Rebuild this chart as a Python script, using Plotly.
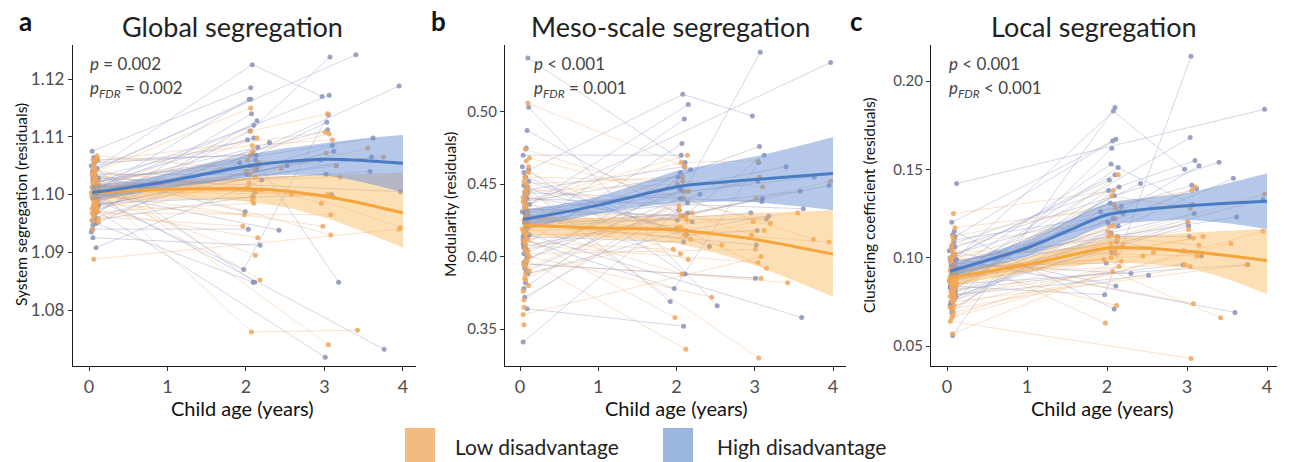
import plotly.graph_objects as go

W, H = 1291, 462
FONT = "Lato"

# ---------------- shared ages (same children in all panels) ----------------
LOW_AGE0 = [0.05, 0.08, 0.04, 0.10, 0.06, 0.07, 0.09, 0.05, 0.11, 0.06,
            0.08, 0.04, 0.07, 0.10, 0.05, 0.09, 0.06, 0.12, 0.07, 0.08,
            0.05, 0.10, 0.06, 0.09, 0.04, 0.07, 0.11, 0.08, 0.06, 0.05,
            0.09, 0.07, 0.10, 0.06, 0.08, 0.05, 0.12, 0.07, 0.09, 0.04,
            0.06, 0.08, 0.10, 0.05, 0.07]
LOW_AGE1 = [2.05, 2.12, None, 1.98, 2.08, None, 2.15, 2.02, None, 2.10,
            2.06, None, 2.18, 2.04, None, 2.11, 1.96, None, 2.09, 2.13,
            None, 2.07, 2.01, None, 2.14, None, 2.10, 2.03, None, 2.16,
            2.05, None, 2.12, None, 2.08, None, 2.45, None, 2.20, None,
            2.06, None, 2.11, None, 2.58]
LOW_AGE2 = [3.02, None, 3.05, None, 3.10, 2.98, None, 3.15, None, None,
            3.04, None, None, 2.96, 3.08, None, None, 3.20, 3.06, None,
            None, 3.42, None, 3.01, None, 3.12, None, None, 3.95, None,
            None, 3.04, 3.97, None, None, None, None, 3.75, None, 3.08,
            None, 3.55, None, None, None]

HIGH_AGE0 = [0.06, 0.04, 0.09, 0.07, 0.05, 0.11, 0.08, 0.06, 0.10, 0.04,
             0.07, 0.09, 0.05, 0.12, 0.06, 0.08, 0.03, 0.10, 0.07, 0.05,
             0.09, 0.06, 0.11, 0.08, 0.04, 0.07, 0.10, 0.05, 0.09, 0.06,
             0.08, 0.12, 0.04, 0.07, 0.10, 0.05, 0.09, 0.06, 0.08, 0.11,
             0.07, 0.05, 0.10, 0.06, 0.08]
HIGH_AGE1 = [2.04, 1.97, 2.10, None, 2.08, 2.14, None, 2.02, 2.12, 2.06,
             None, 2.09, 1.92, None, 2.15, 2.05, 2.11, None, 2.01, 2.18,
             None, 2.07, 2.13, None, 2.03, 2.10, None, 2.06, 2.20, None,
             2.30, None, 2.09, 2.42, None, 2.05, None, 2.14, None, 2.52,
             2.08, None, 2.11, None, 1.99]
HIGH_AGE2 = [None, 3.05, None, 3.01, 2.97, None, 3.10, None, 3.18, None,
             3.04, None, None, 3.60, None, 3.07, None, 2.95, 3.12, None,
             3.58, None, 3.03, 3.76, None, None, 3.09, None, None, 3.02,
             None, 3.97, None, None, 3.40, None, 3.62, None, 3.06, None,
             None, 3.95, None, 3.15, None]

# baseline-only children
LOW_EXTRA_AGE = [0.03, 0.06, 0.09, 0.05, 0.11, 0.07, 0.04, 0.08, 0.10, 0.06,
                 0.05, 0.09, 0.07, 0.12, 0.08]
HIGH_EXTRA_AGE = [0.07, 0.04, 0.10, 0.06, 0.08, 0.05, 0.11, 0.09, 0.03, 0.07,
                  0.06, 0.10, 0.08, 0.05, 0.09]

# ---------------- panel a: system segregation ----------------
A_LOW_Y0 = [1.1012, 1.0998, 1.1035, 1.0985, 1.1050, 1.1002, 1.0972, 1.1020, 1.1063, 1.0990,
            1.1008, 1.0955, 1.1028, 1.0978, 1.1045, 1.1005, 1.0962, 1.1018, 1.0993, 1.1032,
            1.0940, 1.1010, 1.0982, 1.1058, 1.0997, 1.1025, 1.0970, 1.1040, 1.0888, 1.1003,
            1.0987, 1.1015, 1.0975, 1.1048, 1.0995, 1.1022, 1.0958, 1.1030, 1.1000, 1.0968,
            1.1038, 1.0980, 1.1067, 1.0992, 1.1007]
A_LOW_Y1 = [1.1035, 1.0895, None, 1.0965, 1.1085, None, 1.0925, 1.1060, None, 1.0995,
            1.1110, None, 1.0852, 1.1020, None, 1.1048, 1.0945, None, 1.1075, 1.1005,
            None, 1.0762, 1.1040, None, 1.1098, None, 1.0985, 1.1012, None, 1.1055,
            1.1068, None, 1.1030, None, 1.0990, None, 1.1045, None, 1.1008, None,
            1.1150, None, 1.1042, None, 1.1000]
A_LOW_Y2 = [1.1072, None, 1.0740, None, 1.1095, 1.0945, None, 1.1050, None, None,
            1.1140, None, None, 1.0985, 1.0930, None, None, 1.1030, 1.1105, None,
            None, 1.0765, None, 1.1108, None, 1.0995, None, None, 1.0940, None,
            None, 1.1000, 1.0943, None, None, None, None, 1.1065, None, 1.0965,
            None, 1.1080, None, None, None]
A_HIGH_Y0 = [1.1005, 1.0995, 1.1020, 1.0975, 1.1042, 1.1010, 1.0960, 1.1030, 1.0988, 1.1075,
             1.1000, 1.0950, 1.1025, 1.0982, 1.1015, 1.0968, 1.1050, 1.0990, 1.1035, 1.0925,
             1.1008, 1.0978, 1.1060, 1.0998, 1.0940, 1.1018, 1.0985, 1.1040, 1.0908, 1.1012,
             1.0972, 1.1028, 1.0955, 1.1003, 1.1045, 1.0993, 1.1022, 1.0965, 1.1010, 1.0980,
             1.1055, 1.0947, 1.1015, 1.0997, 1.1033]
A_HIGH_Y1 = [1.1165, 1.0870, 1.1120, None, 1.1225, 1.1045, None, 1.1095, 1.1060, 1.1185,
             None, 1.0848, 1.1055, None, 1.1082, 1.1110, 1.0848, None, 1.1035, 1.0912,
             None, 1.1140, 1.1068, None, 1.0940, 1.1098, None, 1.1165, 1.1025, None,
             1.1090, None, 1.0997, 1.0938, None, 1.1050, None, 1.1128, None, 1.1050,
             1.1070, None, 1.1005, None, 1.0970]
A_HIGH_Y2 = [None, 1.1138, None, 1.0718, 1.1170, None, 1.1085, None, 1.0848, None,
             1.1112, None, None, 1.1065, None, 1.1238, None, 1.1060, 1.1075, None,
             1.1040, None, 1.1125, 1.0732, None, None, 1.1000, None, None, 1.1035,
             None, 1.1005, None, None, 1.1242, None, 1.1098, None, 1.1172, None,
             None, 1.1188, None, 1.1050, None]
A_LOW_EXTRA = [1.1003, 1.0983, 1.1026, 1.1060, 1.0990, 1.1014, 1.0976, 1.1045, 1.1001, 1.0967,
               1.1033, 1.0994, 1.1009, 1.0952, 1.1020]
A_HIGH_EXTRA = [1.0998, 1.1012, 1.0982, 1.1026, 1.0958, 1.1040, 1.0992, 1.1006, 1.0935, 1.1018,
                1.1064, 1.0970, 1.1002, 1.1030, 1.0986]

# ---------------- panel b: modularity ----------------
B_LOW_Y0 = [0.425, 0.398, 0.441, 0.412, 0.455, 0.388, 0.430, 0.418, 0.462, 0.405,
            0.436, 0.376, 0.422, 0.447, 0.395, 0.428, 0.410, 0.468, 0.384, 0.433,
            0.353, 0.420, 0.445, 0.402, 0.438, 0.415, 0.458, 0.392, 0.426, 0.370,
            0.443, 0.408, 0.431, 0.385, 0.450, 0.417, 0.400, 0.474, 0.423, 0.360,
            0.436, 0.412, 0.506, 0.394, 0.428]
B_LOW_Y1 = [0.428, 0.336, None, 0.358, 0.452, None, 0.398, 0.420, None, 0.445,
            0.465, None, 0.412, 0.432, None, 0.418, 0.405, None, 0.440, 0.425,
            None, 0.388, 0.450, None, 0.470, None, 0.415, 0.435, None, 0.445,
            0.402, None, 0.428, None, 0.455, None, 0.372, None, 0.430, None,
            0.420, None, 0.462, None, 0.408]
B_LOW_Y2 = [0.440, None, 0.330, None, 0.448, 0.424, None, 0.392, None, None,
            0.466, None, None, 0.415, 0.385, None, None, 0.423, 0.455, None,
            None, 0.382, None, 0.405, None, 0.418, None, None, 0.410, None,
            None, 0.396, 0.452, None, None, None, None, 0.412, None, 0.400,
            None, 0.430, None, None, None]
B_HIGH_Y0 = [0.430, 0.412, 0.446, 0.395, 0.458, 0.421, 0.405, 0.438, 0.388, 0.470,
             0.427, 0.364, 0.449, 0.415, 0.434, 0.398, 0.462, 0.420, 0.441, 0.378,
             0.425, 0.408, 0.452, 0.432, 0.341, 0.418, 0.444, 0.402, 0.487, 0.423,
             0.390, 0.436, 0.414, 0.455, 0.428, 0.396, 0.440, 0.372, 0.418, 0.503,
             0.433, 0.407, 0.537, 0.424, 0.447]
B_HIGH_Y1 = [0.447, 0.378, 0.462, None, 0.512, 0.430, None, 0.455, 0.418, 0.470,
             None, 0.352, 0.369, None, 0.505, 0.440, 0.388, None, 0.425, 0.460,
             None, 0.478, 0.415, None, 0.432, 0.495, None, 0.446, 0.424, None,
             0.443, None, 0.410, 0.407, None, 0.458, None, 0.437, None, 0.366,
             0.428, None, 0.465, None, 0.419]
B_HIGH_Y2 = [None, 0.465, None, 0.385, 0.497, None, 0.440, None, 0.428, None,
             0.452, None, None, 0.358, None, 0.541, None, 0.430, 0.470, None,
             0.445, None, 0.418, 0.455, None, None, 0.438, None, None, 0.408,
             None, 0.534, None, None, 0.462, None, 0.433, None, 0.476, None,
             None, 0.449, None, 0.426, None]
B_LOW_EXTRA = [0.419, 0.440, 0.397, 0.452, 0.380, 0.426, 0.411, 0.466, 0.404, 0.433,
               0.365, 0.447, 0.416, 0.390, 0.429]
B_HIGH_EXTRA = [0.423, 0.409, 0.448, 0.392, 0.436, 0.417, 0.460, 0.400, 0.431, 0.382,
                0.444, 0.414, 0.475, 0.406, 0.427]

# ---------------- panel c: clustering coefficient ----------------
C_LOW_Y0 = [0.088, 0.095, 0.064, 0.102, 0.084, 0.091, 0.073, 0.098, 0.086, 0.107,
            0.082, 0.093, 0.067, 0.089, 0.100, 0.076, 0.094, 0.085, 0.112, 0.081,
            0.090, 0.079, 0.097, 0.087, 0.078, 0.104, 0.092, 0.083, 0.066, 0.099,
            0.088, 0.071, 0.096, 0.080, 0.125, 0.086, 0.093, 0.075, 0.101, 0.089,
            0.084, 0.069, 0.117, 0.091, 0.057]
C_LOW_Y1 = [0.108, 0.073, None, 0.063, 0.118, None, 0.095, 0.112, None, 0.122,
            0.135, None, 0.098, 0.105, None, 0.102, 0.099, None, 0.130, 0.110,
            None, 0.092, 0.115, None, 0.147, None, 0.104, 0.118, None, 0.126,
            0.100, None, 0.112, None, 0.138, None, 0.101, None, 0.107, None,
            0.113, None, 0.128, None, 0.103]
C_LOW_Y2 = [0.116, None, 0.043, None, 0.140, 0.096, None, 0.107, None, None,
            0.128, None, None, 0.104, 0.074, None, None, 0.112, 0.138, None,
            None, 0.066, None, 0.120, None, 0.101, None, None, 0.115, None,
            None, 0.095, 0.136, None, None, None, None, 0.096, None, 0.111,
            None, 0.108, None, None, None]
C_HIGH_Y0 = [0.092, 0.084, 0.101, 0.078, 0.097, 0.088, 0.108, 0.081, 0.095, 0.073,
             0.090, 0.115, 0.086, 0.099, 0.069, 0.093, 0.104, 0.082, 0.096, 0.089,
             0.077, 0.120, 0.091, 0.085, 0.100, 0.056, 0.094, 0.087, 0.110, 0.080,
             0.097, 0.142, 0.083, 0.090, 0.106, 0.075, 0.098, 0.088, 0.102, 0.079,
             0.093, 0.086, 0.112, 0.071, 0.095]
C_HIGH_Y1 = [0.131, 0.079, 0.147, None, 0.183, 0.118, None, 0.138, 0.109, 0.162,
             None, 0.071, 0.126, None, 0.140, 0.153, 0.084, None, 0.120, 0.129,
             None, 0.166, 0.112, None, 0.144, 0.185, None, 0.103, 0.125, None,
             0.091, None, 0.135, 0.142, None, 0.114, None, 0.151, None, 0.090,
             0.122, None, 0.167, None, 0.097]
C_HIGH_Y2 = [None, 0.214, None, 0.120, 0.150, None, 0.155, None, 0.101, None,
             0.168, None, None, 0.069, None, 0.130, None, 0.096, 0.139, None,
             0.145, None, 0.112, 0.096, None, None, 0.125, None, None, 0.118,
             None, 0.184, None, None, 0.154, None, 0.123, None, 0.141, None,
             None, 0.133, None, 0.152, None]
C_LOW_EXTRA = [0.087, 0.093, 0.078, 0.099, 0.083, 0.090, 0.072, 0.096, 0.085, 0.105,
               0.081, 0.092, 0.076, 0.088, 0.110]
C_HIGH_EXTRA = [0.091, 0.099, 0.083, 0.106, 0.089, 0.095, 0.078, 0.102, 0.087, 0.113,
                0.093, 0.081, 0.097, 0.074, 0.100]

# ---------------- fitted trajectories ----------------
FIT_AGE = [0.04, 0.5, 1.0, 1.5, 2.0, 2.5, 3.0, 3.5, 4.0]

A_HIGH_FIT = [1.1003, 1.1012, 1.1023, 1.1036, 1.1049, 1.1057, 1.1061, 1.1059, 1.1054]
A_HIGH_UP = [1.1016, 1.1024, 1.1036, 1.1053, 1.1068, 1.1080, 1.1089, 1.1097, 1.1103]
A_HIGH_LO = [1.0990, 1.1000, 1.1011, 1.1020, 1.1030, 1.1034, 1.1033, 1.1021, 1.1004]
A_LOW_FIT = [1.1003, 1.1006, 1.1009, 1.1010, 1.1010, 1.1006, 1.0997, 1.0984, 1.0968]
A_LOW_UP = [1.1016, 1.1019, 1.1024, 1.1028, 1.1030, 1.1032, 1.1034, 1.1036, 1.1038]
A_LOW_LO = [1.0990, 1.0993, 1.0995, 1.0993, 1.0988, 1.0978, 1.0960, 1.0935, 1.0908]

B_HIGH_FIT = [0.4257, 0.4300, 0.4355, 0.4420, 0.4482, 0.4510, 0.4532, 0.4553, 0.4574]
B_HIGH_UP = [0.4325, 0.4360, 0.4415, 0.4500, 0.4590, 0.4640, 0.4690, 0.4755, 0.4826]
B_HIGH_LO = [0.4190, 0.4240, 0.4295, 0.4340, 0.4372, 0.4380, 0.4375, 0.4350, 0.4320]
B_LOW_FIT = [0.4217, 0.4207, 0.4198, 0.4192, 0.4183, 0.4155, 0.4119, 0.4070, 0.4017]
B_LOW_UP = [0.4290, 0.4275, 0.4265, 0.4265, 0.4270, 0.4285, 0.4300, 0.4310, 0.4320]
B_LOW_LO = [0.4145, 0.4140, 0.4130, 0.4115, 0.4090, 0.4025, 0.3940, 0.3835, 0.3723]

C_HIGH_FIT = [0.0923, 0.0985, 0.1055, 0.1150, 0.1243, 0.1275, 0.1294, 0.1308, 0.1319]
C_HIGH_UP = [0.0965, 0.1025, 0.1100, 0.1205, 0.1310, 0.1340, 0.1366, 0.1420, 0.1476]
C_HIGH_LO = [0.0880, 0.0945, 0.1010, 0.1095, 0.1181, 0.1205, 0.1215, 0.1195, 0.1162]
C_LOW_FIT = [0.0885, 0.0922, 0.0960, 0.1010, 0.1055, 0.1053, 0.1036, 0.1012, 0.0983]
C_LOW_UP = [0.0930, 0.0962, 0.1000, 0.1055, 0.1106, 0.1125, 0.1140, 0.1152, 0.1164]
C_LOW_LO = [0.0840, 0.0880, 0.0918, 0.0950, 0.0970, 0.0965, 0.0942, 0.0880, 0.0794]

TITLES = ["Global segregation", "Meso-scale segregation", "Local segregation"]
LETTERS = ["a", "b", "c"]
YTITLES = ["System segregation (residuals)", "Modularity (residuals)",
           "Clustering coefficient (residuals)"]
PTEXT = [("= 0.002", "= 0.002"), ("< 0.001", "= 0.001"), ("< 0.001", "< 0.001")]
YTICKS = [[1.08, 1.09, 1.10, 1.11, 1.12], [0.35, 0.40, 0.45, 0.50], [0.05, 0.10, 0.15, 0.20]]
XTICKS = [0, 1, 2, 3, 4]
LEGEND_LABELS = ["Low disadvantage", "High disadvantage"]

# ---------------- styles ----------------
LOW_PT = "#f0a65c"
HIGH_PT = "#8a93ba"
LOW_LN = "rgba(240,172,105,0.38)"
HIGH_LN = "rgba(150,156,196,0.45)"
LOW_RIB = "rgba(251,178,80,0.42)"
HIGH_RIB = "rgba(108,146,212,0.50)"
LOW_FITC = "#f5a53c"
HIGH_FITC = "#4a7cc3"

# pixel geometry of the three panels
PANELS = [
    dict(l=73, r=416, xr=[-0.204, 4.166], yr=[1.0703, 1.1259], tfs=17),
    dict(l=505, r=846, xr=[-0.192, 4.166], yr=[0.3245, 0.546], tfs=15),
    dict(l=931, r=1277, xr=[-0.200, 4.125], yr=[0.0387, 0.2204], tfs=15),
]
TOP, BOT = 45, 366


def px(x):
    return x / W


def py(y):
    return 1 - y / H


def subject_paths(a0, a1, a2, y0, y1, y2):
    xs, ys = [], []
    for i in range(len(a0)):
        pts = [(a0[i], y0[i])]
        if a1[i] is not None:
            pts.append((a1[i], y1[i]))
        if a2[i] is not None:
            pts.append((a2[i], y2[i]))
        if len(pts) > 1:
            for x, y in pts:
                xs.append(x)
                ys.append(y)
            xs.append(None)
            ys.append(None)
    return xs, ys


def all_points(pairs):
    xs, ys = [], []
    for arr_a, arr_y in pairs:
        for x, y in zip(arr_a, arr_y):
            if x is not None and y is not None:
                xs.append(x)
                ys.append(y)
    return xs, ys


DATA = [
    (A_LOW_Y0, A_LOW_Y1, A_LOW_Y2, A_LOW_EXTRA, A_HIGH_Y0, A_HIGH_Y1, A_HIGH_Y2, A_HIGH_EXTRA,
     (A_LOW_FIT, A_LOW_UP, A_LOW_LO), (A_HIGH_FIT, A_HIGH_UP, A_HIGH_LO)),
    (B_LOW_Y0, B_LOW_Y1, B_LOW_Y2, B_LOW_EXTRA, B_HIGH_Y0, B_HIGH_Y1, B_HIGH_Y2, B_HIGH_EXTRA,
     (B_LOW_FIT, B_LOW_UP, B_LOW_LO), (B_HIGH_FIT, B_HIGH_UP, B_HIGH_LO)),
    (C_LOW_Y0, C_LOW_Y1, C_LOW_Y2, C_LOW_EXTRA, C_HIGH_Y0, C_HIGH_Y1, C_HIGH_Y2, C_HIGH_EXTRA,
     (C_LOW_FIT, C_LOW_UP, C_LOW_LO), (C_HIGH_FIT, C_HIGH_UP, C_HIGH_LO)),
]

fig = go.Figure()
layout = dict(
    width=W, height=H, margin=dict(l=0, r=0, t=0, b=0, autoexpand=False),
    paper_bgcolor="white", plot_bgcolor="white", showlegend=False,
    font=dict(family=FONT, color="#222"),
)
annotations = []
shapes = []

for k, (ly0, ly1, ly2, lex, hy0, hy1, hy2, hex_, lowfit, highfit) in enumerate(DATA):
    sfx = "" if k == 0 else str(k + 1)
    xa, ya = "x" + sfx, "y" + sfx
    P = PANELS[k]

    # subject trajectories
    for (a0, a1, a2, y0, y1, y2, col) in (
        (LOW_AGE0, LOW_AGE1, LOW_AGE2, ly0, ly1, ly2, LOW_LN),
        (HIGH_AGE0, HIGH_AGE1, HIGH_AGE2, hy0, hy1, hy2, HIGH_LN),
    ):
        xs, ys = subject_paths(a0, a1, a2, y0, y1, y2)
        fig.add_trace(go.Scatter(x=xs, y=ys, mode="lines", xaxis=xa, yaxis=ya,
                                 line=dict(color=col, width=0.9),
                                 connectgaps=False, hoverinfo="skip"))
    # points
    for pairs, col in (
        (((HIGH_AGE0, hy0), (HIGH_AGE1, hy1), (HIGH_AGE2, hy2), (HIGH_EXTRA_AGE, hex_)), HIGH_PT),
        (((LOW_AGE0, ly0), (LOW_AGE1, ly1), (LOW_AGE2, ly2), (LOW_EXTRA_AGE, lex)), LOW_PT),
    ):
        xs, ys = all_points(pairs)
        fig.add_trace(go.Scatter(x=xs, y=ys, mode="markers", xaxis=xa, yaxis=ya,
                                 marker=dict(color=col, size=5, opacity=0.85,
                                             line=dict(width=0))))
    # ribbons (lower bound, then upper filled to it)
    for (fit, up, lo), rib in ((lowfit, LOW_RIB), (highfit, HIGH_RIB)):
        fig.add_trace(go.Scatter(x=FIT_AGE, y=lo, mode="lines",
                                 line=dict(width=0, color=rib, shape="spline", smoothing=0.8),
                                 xaxis=xa, yaxis=ya, hoverinfo="skip"))
        fig.add_trace(go.Scatter(x=FIT_AGE, y=up, mode="lines", fill="tonexty",
                                 fillcolor=rib,
                                 line=dict(width=0, color=rib, shape="spline", smoothing=0.8),
                                 xaxis=xa, yaxis=ya, hoverinfo="skip"))
    # fitted lines
    for (fit, up, lo), fc in ((lowfit, LOW_FITC), (highfit, HIGH_FITC)):
        fig.add_trace(go.Scatter(x=FIT_AGE, y=fit, mode="lines",
                                 line=dict(color=fc, width=3, shape="spline", smoothing=0.8),
                                 xaxis=xa, yaxis=ya, hoverinfo="skip"))

    common_axis = dict(showline=True, linecolor="#1a1a1a", linewidth=1.3,
                       ticks="outside", ticklen=4, tickcolor="#333", tickwidth=1,
                       showgrid=False, zeroline=False, fixedrange=True, automargin=False)
    layout["xaxis" + sfx] = dict(
        domain=[px(P["l"]), px(P["r"])], range=P["xr"], anchor=ya,
        tickvals=XTICKS, ticktext=[str(t) for t in XTICKS],
        tickfont=dict(family=FONT, size=18, color="#4d4d4d"), **common_axis)
    layout["yaxis" + sfx] = dict(
        domain=[py(BOT), py(TOP)], range=P["yr"], anchor=xa,
        tickvals=YTICKS[k], ticktext=["%.2f" % t for t in YTICKS[k]],
        tickfont=dict(family=FONT, size=P["tfs"], color="#4d4d4d"), **common_axis)

# text annotations
TITLE_CX = [232, 670, 1094]
LETTER_X = [25, 438, 856]
YT_X = [21, 450, 869]
XT_CX = [242, 676, 1102]
P_X = [88, 532, 947]


def ann(x, y, text, size, color, xanchor="center", angle=0):
    return dict(x=px(x), y=py(y), xref="paper", yref="paper", text=text,
                showarrow=False, xanchor=xanchor, yanchor="middle", textangle=angle,
                font=dict(family=FONT, size=size, color=color))


for k in range(3):
    annotations.append(ann(TITLE_CX[k], 27, TITLES[k], 27, "#222"))
    annotations.append(ann(LETTER_X[k], 21, "<b>%s</b>" % LETTERS[k], 26, "#111"))
    annotations.append(ann(YT_X[k], 205, YTITLES[k], 15.5, "#111", angle=-90))
    annotations.append(ann(XT_CX[k], 408, "Child age (years)", 20, "#111"))
    annotations.append(ann(P_X[k], 64, "<i>p</i> %s" % PTEXT[k][0], 17, "#444",
                           xanchor="left"))
    annotations.append(ann(P_X[k], 89, "<i>p</i><sub><i>FDR</i></sub> %s" % PTEXT[k][1],
                           17, "#444", xanchor="left"))

# legend (manual)
LEG_SQ_X = [405, 663]
LEG_TXT_X = [453, 715]
LEG_COLORS = ["#f2bb80", "#9ab6dc"]
for i in range(2):
    shapes.append(dict(type="rect", xref="paper", yref="paper",
                       x0=px(LEG_SQ_X[i]), x1=px(LEG_SQ_X[i] + 30),
                       y0=py(462), y1=py(428), fillcolor=LEG_COLORS[i], line=dict(width=0)))
    annotations.append(ann(LEG_TXT_X[i], 446, LEGEND_LABELS[i], 21, "#222", xanchor="left"))

layout["annotations"] = annotations
layout["shapes"] = shapes
fig.update_layout(**layout)
fig.write_html("out.html", config={"displayModeBar": False},
               post_script="document.body.style.margin='0';document.body.style.padding='0';")
